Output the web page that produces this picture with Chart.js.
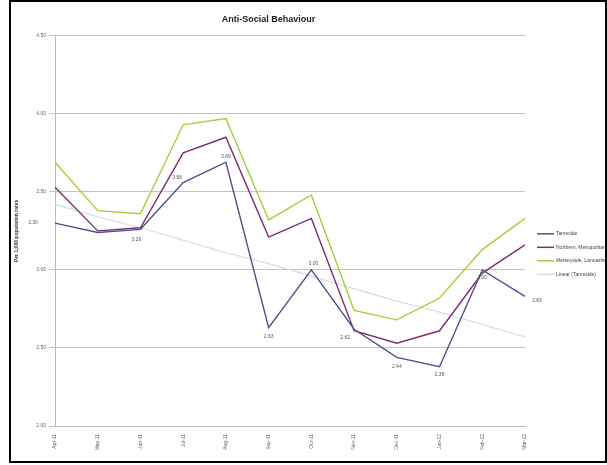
<!DOCTYPE html>
<html>
<head>
<meta charset="utf-8">
<script src="https://cdn.jsdelivr.net/npm/chart.js@4/dist/chart.umd.min.js"></script>
<style>
  html, body { margin: 0; padding: 0; background: #fff; }
  #wrap { position: relative; width: 607px; height: 465px; }
  #frame {
    position: absolute; left: 9px; top: 0; width: 594px; height: 459px;
    border: 2px solid #000; pointer-events: none;
  }
</style>
</head>
<body>
<div id="wrap">
  <canvas id="chart" width="607" height="465"></canvas>
  <div id="frame"></div>
</div>
<script>
const months = ["Apr-11", "May-11", "Jun-11", "Jul-11", "Aug-11", "Sep-11",
                "Oct-11", "Nov-11", "Dec-11", "Jan-12", "Feb-12", "Mar-12"];
const seriesNames = ["Tameside", "Northern, Metropolitan", "Merseyside, Lancashire", "Linear (Tameside)"];
const local = [3.30, 3.24, 3.26, 3.56, 3.69, 2.63, 3.00, 2.62, 2.44, 2.38, 3.00, 2.83];
const family = [3.53, 3.25, 3.27, 3.75, 3.85, 3.21, 3.33, 2.61, 2.53, 2.61, 2.98, 3.16];
const region = [3.69, 3.38, 3.36, 3.93, 3.97, 3.32, 3.48, 2.74, 2.68, 2.82, 3.13, 3.33];
const trend = [3.42, 3.34, 3.27, 3.19, 3.11, 3.04, 2.96, 2.88, 2.80, 2.73, 2.65, 2.57];
const yTicks = { min: 2.0, max: 4.5, step: 0.5 };

const colors = ["#4f4f8c", "#7d2f72", "#a8cc3a", "#d3dde8"];
// label offsets for the first series (dx, dy), null = no label
const labelOffsets = [[-22, 0], null, [-4, 10], [-6, -5], [0, -6], [0, 9],
                      [2, -6], [-9, 8], [0, 9], [0, 8], [0, 8], [12, 4]];

const dataLabels = {
  id: "dataLabels",
  afterDatasetsDraw(chart) {
    const ctx = chart.ctx;
    const meta = chart.getDatasetMeta(0);
    ctx.save();
    ctx.font = "5px 'Liberation Sans', Arial, sans-serif";
    ctx.fillStyle = "#555";
    ctx.textAlign = "center";
    ctx.textBaseline = "middle";
    meta.data.forEach((pt, i) => {
      const off = labelOffsets[i];
      if (!off) return;
      ctx.fillText(local[i].toFixed(2), pt.x + off[0], pt.y + off[1]);
    });
    ctx.restore();
  }
};

const sideLegend = {
  id: "sideLegend",
  afterDraw(chart) {
    const ctx = chart.ctx;
    const x = chart.chartArea.right + 12;
    const y0 = chart.chartArea.top + 198;
    ctx.save();
    ctx.font = "5px 'Liberation Sans', Arial, sans-serif";
    ctx.textBaseline = "middle";
    seriesNames.forEach((name, i) => {
      const y = y0 + i * 13.5;
      ctx.strokeStyle = colors[i];
      ctx.lineWidth = 1.5;
      ctx.beginPath();
      ctx.moveTo(x, y);
      ctx.lineTo(x + 17, y);
      ctx.stroke();
      ctx.fillStyle = "#444";
      ctx.fillText(name, x + 19, y);
    });
    ctx.restore();
  }
};

function line(label, data, color, width) {
  return {
    label, data,
    borderColor: color,
    backgroundColor: color,
    borderWidth: width,
    pointRadius: 0,
    tension: 0,
    fill: false
  };
}

new Chart(document.getElementById("chart"), {
  type: "line",
  data: {
    labels: months,
    datasets: [
      line(seriesNames[0], local, colors[0], 1.4),
      line(seriesNames[1], family, colors[1], 1.4),
      line(seriesNames[2], region, colors[2], 1.4),
      line(seriesNames[3], trend, colors[3], 1.2)
    ]
  },
  options: {
    responsive: false,
    animation: false,
    layout: { padding: { left: 12, right: 82, top: 0, bottom: 0 } },
    plugins: {
      legend: { display: false },
      tooltip: { enabled: false },
      title: {
        display: true,
        text: "Anti-Social Behaviour",
        color: "#222",
        font: { family: "'Liberation Sans', Arial, sans-serif", size: 9, weight: "bold" },
        padding: { top: 14, bottom: 11 }
      }
    },
    scales: {
      x: {
        grid: { display: false, drawTicks: true },
        border: { color: "#bbb" },
        ticks: {
          minRotation: 90, maxRotation: 90,
          color: "#666",
          font: { family: "'Liberation Sans', Arial, sans-serif", size: 5 },
          padding: 0
        },
        afterFit(scale) { scale.height = 39; }
      },
      y: {
        min: yTicks.min, max: yTicks.max,
        grid: { color: "#c4c4c4", lineWidth: 1, drawTicks: true, tickLength: 6 },
        border: { color: "#bbb" },
        ticks: {
          stepSize: yTicks.step,
          color: "#666",
          font: { family: "'Liberation Sans', Arial, sans-serif", size: 5 },
          padding: 3,
          callback: (v) => Number(v).toFixed(2)
        },
        title: {
          display: true,
          text: "Per 1,000 population rates",
          color: "#333",
          font: { family: "'Liberation Sans', Arial, sans-serif", size: 5, weight: "bold" },
          padding: 2
        },
        afterFit(scale) { scale.width = 43; }
      }
    }
  },
  plugins: [dataLabels, sideLegend]
});
</script>
</body>
</html>
